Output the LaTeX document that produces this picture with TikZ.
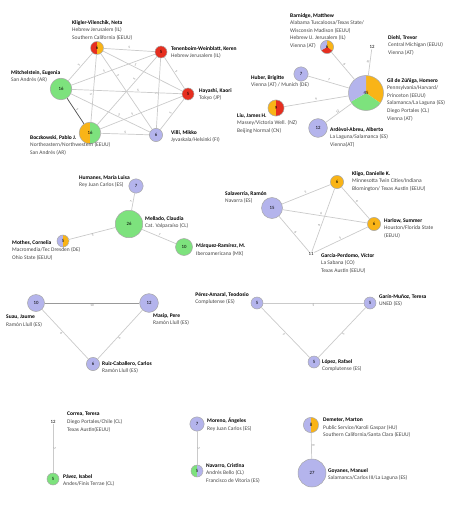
\documentclass[tikz,border=0pt]{standalone}
\usepackage{fontspec}
\setmainfont{Carlito}
\usepackage{tikz}
\definecolor{NodeGreen}{HTML}{7DE27D}
\definecolor{NodeLav}{HTML}{B4B4EC}
\definecolor{NodeOrange}{HTML}{F9B417}
\definecolor{NodeRed}{HTML}{E62E1F}
\definecolor{EdgeGray}{HTML}{CACACA}
\definecolor{RimGray}{HTML}{A8A8A8}
\definecolor{TextGray}{HTML}{454545}
\newcommand{\aname}[1]{\textcolor{black}{\textbf{#1}}}

\begin{document}
\begin{tikzpicture}[x=1pt, y=-1pt,
  pnode/.style={circle, draw=RimGray, line width=0.5pt, inner sep=0pt, font=\fontsize{4.8}{5}\selectfont},
  bare/.style={inner sep=0.6pt, font=\fontsize{4.8}{5}\selectfont},
  lbl/.style={anchor=north west, inner sep=0pt, align=left, text=TextGray, font=\fontsize{5.5}{7.6}\selectfont},
  link/.style={draw=EdgeGray, line width=0.7pt},
  elbl/.style={font=\fontsize{3.4}{4}\selectfont, text=gray, sloped, above, inner sep=0.6pt},
  halfpie/.style 2 args={path picture={
    \fill[#1] (path picture bounding box.south west) rectangle (path picture bounding box.north);
    \fill[#2] (path picture bounding box.south) rectangle (path picture bounding box.north east);}},
  thirdpie/.style n args={3}{path picture={
    \fill[#1] (path picture bounding box.center) -- ++(90:20pt) arc[start angle=90, end angle=-35, radius=20pt] -- cycle;
    \fill[#2] (path picture bounding box.center) -- ++(-35:20pt) arc[start angle=-35, end angle=-150, radius=20pt] -- cycle;
    \fill[#3] (path picture bounding box.center) -- ++(-150:20pt) arc[start angle=-150, end angle=-270, radius=20pt] -- cycle;}}]
  \useasboundingbox (0,0) rectangle (450,508);

  % Top-left cluster
  \node[pnode, halfpie={NodeRed}{NodeOrange}, minimum size=13pt] (kligler) at (97,48) {6};
  \node[pnode, fill=NodeRed, minimum size=12pt] (tenen) at (161,52) {5};
  \node[pnode, fill=NodeRed, minimum size=12pt] (hayashi) at (188,94) {5};
  \node[pnode, fill=NodeLav, minimum size=13.2pt] (villi) at (156,135) {6};
  \node[pnode, halfpie={NodeOrange}{NodeGreen}, minimum size=21.6pt] (bocz) at (90,133) {16};
  \node[pnode, fill=NodeGreen, minimum size=21.6pt] (mitch) at (61,89) {16};

  \node[lbl] (kligler-lbl) at (72,20) {\aname{Kligler-Vilenchik, Neta}\\Hebrew Jerusalem (IL)\\Southern California (EEUU)};
  \node[lbl] (tenen-lbl) at (171,46) {\aname{Tenenboim-Weinblatt, Keren}\\Hebrew Jerusalem (IL)};
  \node[lbl] (hayashi-lbl) at (199,88) {\aname{Hayashi, Kaori}\\Tokyo (JP)};
  \node[lbl] (villi-lbl) at (171,130) {\aname{Villi, Mikko}\\Jyvaskala/Helsinki (FI)};
  \node[lbl] (bocz-lbl) at (30,135) {\aname{Boczkowski, Pablo J.}\\Northeastern/Northwestern (EEUU)\\San Andrés (AR)};
  \node[lbl] (mitch-lbl) at (11,70) {\aname{Mitchelstein, Eugenia}\\San Andrés (AR)};

  \draw[link] (kligler) -- node[elbl] {5} (tenen);
  \draw[link] (kligler) -- node[elbl, pos=0.4] {5} (hayashi);
  \draw[link] (kligler) -- node[elbl, pos=0.3] {5} (villi);
  \draw[link] (kligler) -- node[elbl, pos=0.6] {5} (bocz);
  \draw[link] (kligler) -- node[elbl] {5} (mitch);
  \draw[link] (tenen) -- node[elbl, pos=0.6] {5} (mitch);
  \draw[link] (tenen) -- node[elbl, pos=0.35] {5} (bocz);
  \draw[link] (tenen) -- node[elbl] {5} (hayashi);
  \draw[link] (tenen) -- node[elbl] {5} (villi);
  \draw[link] (hayashi) -- node[elbl, pos=0.4] {5} (mitch);
  \draw[link] (hayashi) -- node[elbl, pos=0.6] {5} (bocz);
  \draw[link] (hayashi) -- node[elbl] {5} (villi);
  \draw[link, draw=black!70] (mitch) -- node[elbl] {5} (bocz);
  \draw[link] (mitch) -- node[elbl, pos=0.6] {5} (villi);
  \draw[link] (bocz) -- node[elbl] {5} (villi);

  % Top-right cluster
  \node[pnode, thirdpie={NodeOrange}{NodeRed}{NodeLav}, minimum size=13.2pt] (barnidge) at (327,47) {6};
  \node[bare] (diehl) at (372,47) {12};
  \node[pnode, thirdpie={NodeOrange}{NodeGreen}{NodeLav}, minimum size=35pt] (gil) at (366,93) {45};
  \node[pnode, fill=NodeLav, minimum size=14.3pt] (huber) at (301,74) {7};
  \node[pnode, halfpie={NodeOrange}{NodeRed}, minimum size=16.2pt] (liu) at (276,108) {9};
  \node[pnode, fill=NodeLav, minimum size=18.7pt] (ardevol) at (318,128) {12};

  \node[lbl] (barnidge-lbl) at (290,13) {\aname{Barnidge, Matthew}\\Alabama Tuscaloosa/Texas State/\\Wisconsin Madison (EEUU)\\Hebrew U. Jerusalem (IL)\\Vienna (AT)};
  \node[lbl] (diehl-lbl) at (388,35) {\aname{Diehl, Trevor}\\Central Michigan (EEUU)\\Vienna (AT)};
  \node[lbl] (gil-lbl) at (387,78) {\aname{Gil de Zúñiga, Homero}\\Pennsylvania/Harvard/\\Princeton (EEUU)\\Salamanca/La Laguna (ES)\\Diego Portales (CL)\\Vienna (AT)};
  \node[lbl] (huber-lbl) at (251,75) {\aname{Huber, Brigitte}\\Vienna (AT) / Munich (DE)};
  \node[lbl] (liu-lbl) at (237,113) {\aname{Liu, James H.}\\Massey/Victoria Well. (NZ)\\Beijing Normal (CN)};
  \node[lbl] (ardevol-lbl) at (330,127) {\aname{Ardèvol-Abreu, Alberto}\\La Laguna/Salamanca (ES)\\Vienna(AT)};

  \draw[link] (gil) -- node[elbl] {6} (barnidge);
  \draw[link] (gil) -- node[elbl] {11} (diehl);
  \draw[link] (gil) -- node[elbl] {7} (huber);
  \draw[link] (gil) -- node[elbl] {9} (liu);
  \draw[link] (gil) -- node[elbl] {12} (ardevol);

  % Middle-left cluster
  \node[pnode, fill=NodeLav, minimum size=14.3pt] (humanes) at (136,186) {7};
  \node[pnode, fill=NodeGreen, minimum size=27.5pt] (mellado) at (129,224) {26};
  \node[pnode, halfpie={NodeLav}{NodeOrange}, minimum size=12pt] (mothes) at (63,241) {5};
  \node[pnode, fill=NodeGreen, minimum size=17pt] (marquez) at (184,247) {10};

  \node[lbl] (humanes-lbl) at (79,175) {\aname{Humanes, María Luisa}\\Rey Juan Carlos (ES)};
  \node[lbl] (mellado-lbl) at (145,216) {\aname{Mellado, Claudia}\\Cat. Valparaíso (CL)};
  \node[lbl] (mothes-lbl) at (12,240) {\aname{Mothes, Cornelia}\\Macromedia/Tec Dresden (DE)\\Ohio State (EEUU)};
  \node[lbl] (marquez-lbl) at (196,244) {\aname{Márquez-Ramírez, M.}\\Iberoamericana (MX)};

  \draw[link] (mellado) -- node[elbl] {7} (humanes);
  \draw[link] (mellado) -- node[elbl, below] {5} (mothes);
  \draw[link] (mellado) -- node[elbl] {7} (marquez);

  % Middle-right cluster
  \node[pnode, fill=NodeLav, minimum size=21pt] (salaverria) at (272,208) {15};
  \node[pnode, fill=NodeOrange, minimum size=13.2pt] (kligo) at (337,182) {6};
  \node[pnode, fill=NodeOrange, minimum size=13.2pt] (harlow) at (374,224) {6};
  \node[bare] (garcia) at (311,254) {11};

  \node[lbl] (salaverria-lbl) at (225,191) {\aname{Salaverría, Ramón}\\Navarra (ES)};
  \node[lbl] (kligo-lbl) at (352,171) {\aname{Kligo, Danielle K.}\\Minnesotta Twin Cities/Indiana\\Blomington/ Texas Austin (EEUU)};
  \node[lbl] (harlow-lbl) at (384,218) {\aname{Harlow, Summer}\\Houston/Florida State\\(EEUU)};
  \node[lbl] (garcia-lbl) at (321,253) {\aname{García-Perdomo, Víctor}\\La Sabana (CO)\\Texas Austin (EEUU)};

  \draw[link] (salaverria) -- node[elbl] {5} (kligo);
  \draw[link] (salaverria) -- node[elbl, pos=0.45] {6} (harlow);
  \draw[link] (salaverria) -- node[elbl] {6} (garcia);
  \draw[link] (kligo) -- node[elbl] {6} (harlow);
  \draw[link] (kligo) -- node[elbl, pos=0.6] {6} (garcia);
  \draw[link] (harlow) -- node[elbl] {5} (garcia);

  % Ramon Llull triangle
  \node[pnode, fill=NodeLav, minimum size=17pt] (suau) at (36,303) {10};
  \node[pnode, fill=NodeLav, minimum size=18.7pt] (masip) at (149,303) {12};
  \node[pnode, fill=NodeLav, minimum size=13.2pt] (ruiz) at (93,364) {6};

  \node[lbl] (suau-lbl) at (6,315) {\aname{Suau, Jaume}\\Ramón Llull (ES)};
  \node[lbl] (masip-lbl) at (153,313) {\aname{Masip, Pere}\\Ramón Llull (ES)};
  \node[lbl] (ruiz-lbl) at (102,361) {\aname{Ruiz-Caballero, Carlos}\\Ramón Llull (ES)};

  \draw[link, draw=black!40, line width=0.9pt] (suau) -- node[elbl, below] {10} (masip);
  \draw[link] (suau) -- node[elbl, below, pos=0.45] {6} (ruiz);
  \draw[link] (masip) -- node[elbl, below, pos=0.55] {6} (ruiz);

  % Complutense triangle
  \node[pnode, fill=NodeLav, minimum size=12pt] (perez) at (257,303) {5};
  \node[pnode, fill=NodeLav, minimum size=12pt] (garin) at (370,303) {5};
  \node[pnode, fill=NodeLav, minimum size=12pt] (lopez) at (314,362) {5};

  \node[lbl, anchor=north east] (perez-lbl) at (249,292) {\aname{Pérez-Amaral, Teodosio}\\Complutense (ES)};
  \node[lbl] (garin-lbl) at (379,294) {\aname{Garín-Muñoz, Teresa}\\UNED (ES)};
  \node[lbl] (lopez-lbl) at (322,359) {\aname{López, Rafael}\\Complutense (ES)};

  \draw[link] (perez) -- node[elbl, below] {5} (garin);
  \draw[link] (perez) -- node[elbl, below] {5} (lopez);
  \draw[link] (garin) -- node[elbl, below] {5} (lopez);

  % Pairs at the bottom
  \node[bare] (correa) at (53,422) {12};
  \node[pnode, fill=NodeGreen, minimum size=12pt] (pavez) at (53,479) {5};
  \node[pnode, fill=NodeLav, minimum size=14.3pt] (moreno) at (197,424) {7};
  \node[pnode, halfpie={NodeGreen}{NodeLav}, minimum size=12pt] (navarro) at (197,471) {5};
  \node[pnode, halfpie={NodeLav}{NodeOrange}, minimum size=15.3pt] (demeter) at (311,425) {8};
  \node[pnode, fill=NodeLav, minimum size=28pt] (goyanes) at (312,473) {27};

  \node[lbl] (correa-lbl) at (67,412) {\aname{Correa, Teresa}\\Diego Portales/Chile (CL)\\Texas Austin(EEUU)};
  \node[lbl] (pavez-lbl) at (63,474) {\aname{Pávez, Isabel}\\Andes/Finis Terrae (CL)};
  \node[lbl] (moreno-lbl) at (207,418) {\aname{Moreno, Ángeles}\\Rey Juan Carlos (ES)};
  \node[lbl] (navarro-lbl) at (206,463) {\aname{Navarro, Cristina}\\Andrés Bello (CL)\\Francisco de Vitoria (ES)};
  \node[lbl] (demeter-lbl) at (323,418) {\aname{Demeter, Marton}\\Public Service/Karoli Gaspar (HU)\\Southern California/Santa Clara (EEUU)};
  \node[lbl] (goyanes-lbl) at (328,468) {\aname{Goyanes, Manuel}\\Salamanca/Carlos III/La Laguna (ES)};

  \draw[link] (correa) -- node[elbl] {5} (pavez);
  \draw[link] (moreno) -- node[elbl] {5} (navarro);
  \draw[link] (demeter) -- node[elbl] {8} (goyanes);
\end{tikzpicture}
\end{document}
